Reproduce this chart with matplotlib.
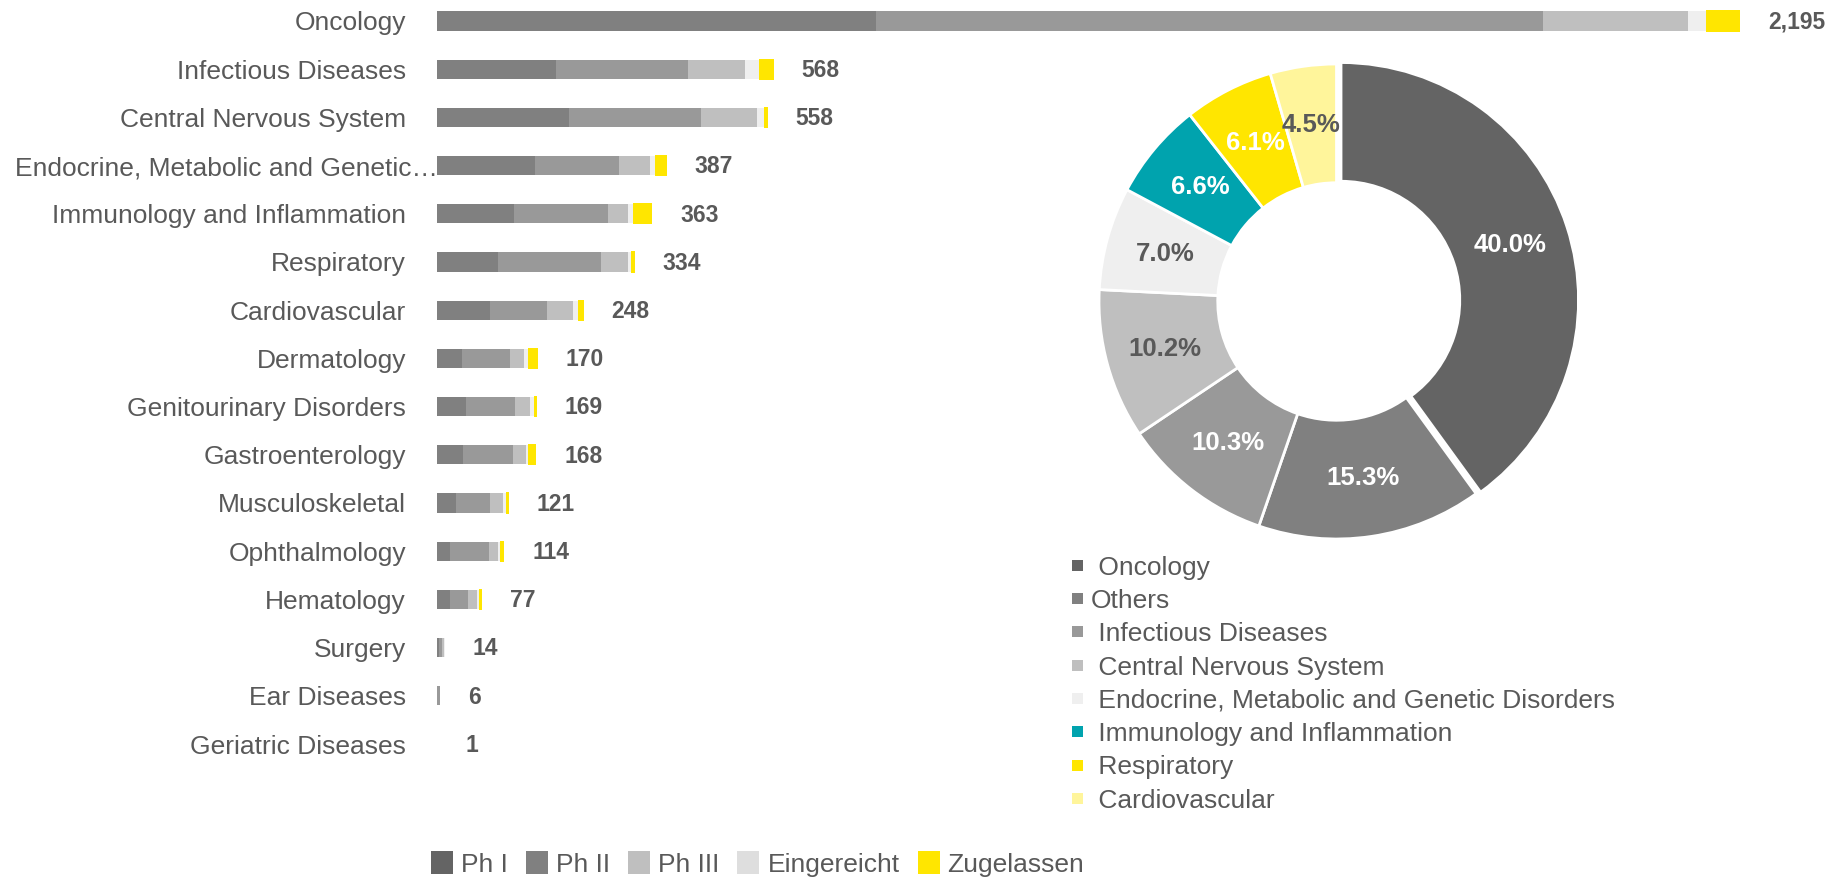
import matplotlib
matplotlib.use('Agg')
import matplotlib.pyplot as plt
from matplotlib.patches import Rectangle

plt.rcParams['font.family'] = ['Liberation Sans', 'DejaVu Sans']

# ---------------- data ----------------
categories = ['Oncology', 'Infectious Diseases', 'Central Nervous System',
              'Endocrine, Metabolic and Genetic\u2026', 'Immunology and Inflammation',
              'Respiratory', 'Cardiovascular', 'Dermatology', 'Genitourinary Disorders',
              'Gastroenterology', 'Musculoskeletal', 'Ophthalmology', 'Hematology',
              'Surgery', 'Ear Diseases', 'Geriatric Diseases']
ph1 = [740, 201, 222, 165, 130, 103, 89, 42, 50, 44, 33, 22, 23, 4, 1, 0]
ph2 = [1123, 223, 223, 142, 159, 173, 97, 82, 82, 85, 57, 66, 30, 5, 4, 1]
ph3 = [244, 96, 95, 53, 34, 47, 44, 23, 25, 21, 22, 16, 15, 4, 1, 0]
eingereicht = [30, 22, 11, 7, 7, 4, 8, 6, 7, 4, 5, 2, 4, 1, 0, 0]
zugelassen = [58, 26, 7, 20, 33, 7, 10, 17, 5, 14, 4, 8, 5, 0, 0, 0]
totals = [2195, 568, 558, 387, 363, 334, 248, 170, 169, 168, 121, 114, 77, 14, 6, 1]
phase_names = ['Ph I', 'Ph II', 'Ph III', 'Eingereicht', 'Zugelassen']

pie_labels = ['Oncology', 'Others', 'Infectious Diseases', 'Central Nervous System',
              'Endocrine, Metabolic and Genetic Disorders', 'Immunology and Inflammation',
              'Respiratory', 'Cardiovascular']
pie_share = [40.0, 15.3, 10.3, 10.2, 7.0, 6.6, 6.1, 4.5]

# ---------------- style ----------------
bar_colors = ['#808080', '#999999', '#bfbfbf', '#efefef', '#ffe600']
legend_colors = ['#646464', '#808080', '#bfbfbf', '#dedede', '#ffe600']
pie_colors = ['#646464', '#808080', '#999999', '#bfbfbf', '#efefef', '#00a3ae', '#ffe600', '#fff59b']
pct_colors = ['white', 'white', 'white', '#595959', '#595959', 'white', 'white', '#595959']
TXT = '#595959'

W, H = 1842, 877
fig = plt.figure(figsize=(W / 100, H / 100), dpi=100)

# ---------------- bar chart ----------------
x0 = 436.7
px_per_unit = 0.5938
row0, step = 21.0, 48.2
ax = fig.add_axes([x0 / W, 0, 1 - x0 / W, 1])
ax.patch.set_alpha(0)
ax.set_xlim(0, (W - x0) / px_per_unit)
ax.set_ylim((H - row0) / step, -row0 / step)

ys = list(range(len(categories)))
left = [0] * len(categories)
for k, series in enumerate([ph1, ph2, ph3, eingereicht, zugelassen]):
    h = 0.44 if k == 4 else 0.40
    ax.barh(ys, series, left=left, height=h, color=bar_colors[k], linewidth=0)
    left = [a + b for a, b in zip(left, series)]

for y, t in zip(ys, totals):
    ax.annotate(f'{t:,}', xy=(t, y), xytext=(20, -1), textcoords='offset points',
                va='center', ha='left', fontsize=16.5, fontweight='bold', color=TXT)

ax.set_yticks(ys)
ax.set_yticklabels(categories, fontsize=19, color=TXT)
ax.tick_params(axis='y', length=0, pad=22.1)
ax.set_xticks([])
for s in ax.spines.values():
    s.set_visible(False)

# ---------------- donut ----------------
cx, cy, R = 1336.5, 301.5, 237.5
half = 300
pax = fig.add_axes([(cx - half) / W, (H - cy - half) / H, 2 * half / W, 2 * half / H])
explode = [0.02] + [0] * (len(pie_share) - 1)
wedges, texts, autotexts = pax.pie(
    pie_share, colors=pie_colors, startangle=90, counterclock=False, radius=1,
    explode=explode, autopct='%.1f%%', pctdistance=0.75,
    wedgeprops=dict(width=0.5, edgecolor='white', linewidth=2),
    textprops=dict(fontsize=18.5, fontweight='bold'))
for t, c in zip(autotexts, pct_colors):
    t.set_color(c)
pax.set_xlim(-half / R, half / R)
pax.set_ylim(-half / R, half / R)
pax.axis('off')

# donut legend
for i, (lab, col) in enumerate(zip(pie_labels, pie_colors)):
    yc = 565.3 + i * 33.3
    fig.add_artist(Rectangle((1072.3 / W, 1 - (yc + 5.5) / H), 11 / W, 11 / H,
                             transform=fig.transFigure, color=col, lw=0))
    txt = lab if lab == 'Others' else ' ' + lab
    fig.text(1091 / W, 1 - (yc + 9.4) / H, txt, fontsize=19, color=TXT, va='baseline', ha='left')

# ---------------- bottom legend ----------------
renderer = fig.canvas.get_renderer()
xs = 431.0
for name, col in zip(phase_names, legend_colors):
    fig.add_artist(Rectangle((xs / W, 1 - 874 / H), 22 / W, 23 / H,
                             transform=fig.transFigure, color=col, lw=0))
    t = fig.text((xs + 30) / W, 1 - 872 / H, name, fontsize=19, color=TXT, va='baseline', ha='left')
    ext = t.get_window_extent(renderer)
    xs = ext.x1 + 18

# truncated long tick label: keep it inside the figure like the original
fig.canvas.draw()
for lbl in ax.get_yticklabels():
    ext = lbl.get_window_extent(renderer)
    if ext.x0 < 15:
        yc = (ext.y0 + ext.y1) / 2
        fig.text(15 / W, yc / H, lbl.get_text(), fontsize=19, color=TXT,
                 ha='left', va='center')
        lbl.set_visible(False)

fig.savefig('out.png', dpi=100)
